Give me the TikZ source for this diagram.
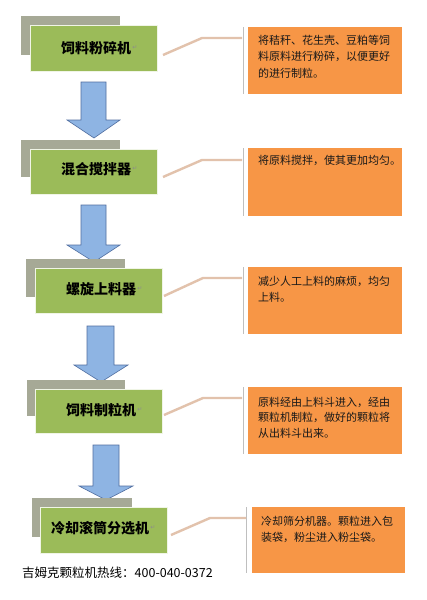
\documentclass[tikz,border=0pt]{standalone}
\usepackage{fontspec}
\newfontfamily\cjk{Noto Sans CJK SC}
\newfontfamily\dejavu{DejaVu Sans}
\definecolor{stepgreen}{RGB}{155,187,89}
\definecolor{backgrey}{RGB}{166,169,150}
\definecolor{noteorange}{RGB}{247,150,70}
\definecolor{arrowblue}{RGB}{142,180,227}
\definecolor{arrowedge}{RGB}{80,110,160}
\definecolor{linktan}{RGB}{226,194,172}
\tikzset{
  backbox/.style={fill=backgrey, draw=none},
  stepbox/.style={fill=stepgreen, draw=white!85!stepgreen, line width=0.8pt},
  steptext/.style={font=\cjk\bfseries\fontsize{14}{16}\selectfont, inner sep=0pt},
  notebox/.style={fill=noteorange, draw=none},
  noteedge/.style={draw=black!25, line width=0.8pt},
  notetext/.style={font=\cjk\fontsize{11}{16.5}\selectfont, text=black!90, align=left, anchor=north west, inner sep=0pt},
  flowarrow/.style={fill=arrowblue, draw=arrowedge, line width=0.6pt, line join=miter},
  link/.style={draw=linktan, line width=2.4pt},
  pmark/.style={font=\dejavu\fontsize{6}{6}\selectfont, text=black!45, inner sep=0pt, anchor=west, xshift=1pt}
}
\begin{document}
\begin{tikzpicture}[x=1pt,y=-1pt]
\useasboundingbox (0,0) rectangle (427,600);
\fill[white] (0,0) rectangle (427,600);

% ---------- step 1 ----------
\fill[backbox] (21,16) rectangle (120,55);
\draw[stepbox] (30,25) rectangle (157,71);
\node[steptext] (s1) at (96,48) {饲料粉碎机};
\node[pmark] at (s1.east) {↵};
\draw[noteedge] (243,27) -- (243,94);
\fill[notebox] (248,27) rectangle (402,94);
\node[notetext] (n1) at (258,35) {将秸秆、花生壳、豆粕等饲\\料原料进行粉碎，以便更好\\的进行制粒。};
\coordinate (c1a) at (163,55);
\coordinate (c1b) at (202,38);
\coordinate (c1c) at (242,38);
\draw[link] (c1a) -- (c1b) -- (c1c);

% arrow 1
\draw[flowarrow] (81,82) -- (106,82) -- (106,120) -- (120,120) -- (94,138) -- (67,120) -- (81,120) -- cycle;

% ---------- step 2 ----------
\fill[backbox] (21,140) rectangle (120,177);
\draw[stepbox] (30,149) rectangle (157,194);
\node[steptext] (s2) at (96,169) {混合搅拌器};
\node[pmark] at (s2.east) {↵};
\draw[noteedge] (243,148) -- (243,216);
\fill[notebox] (248,148) rectangle (402,216);
\node[notetext] (n2) at (258,155) {将原料搅拌，使其更加均匀。};
\coordinate (c2a) at (163,177);
\coordinate (c2b) at (202,160);
\coordinate (c2c) at (242,160);
\draw[link] (c2a) -- (c2b) -- (c2c);

% arrow 2
\draw[flowarrow] (81,205) -- (106,205) -- (106,245) -- (120,245) -- (94,262) -- (67,245) -- (81,245) -- cycle;

% ---------- step 3 ----------
\fill[backbox] (26,259) rectangle (125,297);
\draw[stepbox] (35,268) rectangle (162,313);
\node[steptext] (s3) at (101,289) {螺旋上料器};
\node[pmark] at (s3.east) {↵};
\draw[noteedge] (243,267) -- (243,334);
\fill[notebox] (248,267) rectangle (402,334);
\node[notetext] (n3) at (258,276) {减少人工上料的麻烦，均匀\\上料。};
\coordinate (c3a) at (164,296);
\coordinate (c3b) at (203,278);
\coordinate (c3c) at (242,278);
\draw[link] (c3a) -- (c3b) -- (c3c);

% arrow 3
\draw[flowarrow] (87,326) -- (114,326) -- (114,365) -- (128,365) -- (101,382) -- (74,365) -- (87,365) -- cycle;

% ---------- step 4 ----------
\fill[backbox] (27,380) rectangle (125,416);
\draw[stepbox] (35,389) rectangle (162,433);
\node[steptext] (s4) at (101,410) {饲料制粒机};
\node[pmark] at (s4.east) {↵};
\draw[noteedge] (243,387) -- (243,454);
\fill[notebox] (248,387) rectangle (402,454);
\node[notetext, font=\cjk\fontsize{11}{15.5}\selectfont] (n4) at (258,397) {原料经由上料斗进入，经由\\颗粒机制粒，做好的颗粒将\\从出料斗出来。};
\coordinate (c4a) at (164,415);
\coordinate (c4b) at (203,398);
\coordinate (c4c) at (242,398);
\draw[link] (c4a) -- (c4b) -- (c4c);

% arrow 4
\draw[flowarrow] (93,445) -- (119,445) -- (119,486) -- (133,486) -- (106,500) -- (79,486) -- (93,486) -- cycle;

% ---------- step 5 ----------
\fill[backbox] (32,498) rectangle (132,537);
\draw[stepbox] (40,507) rectangle (167,553);
\node[steptext] (s5) at (100,528) {冷却滚筒分选机};
\node[pmark] at (s5.east) {↵};
\draw[noteedge] (246,507) -- (246,573);
\fill[notebox] (252,507) rectangle (405,573);
\node[notetext, font=\cjk\fontsize{11}{15.5}\selectfont] (n5) at (261,516) {冷却筛分机器。颗粒进入包\\装袋，粉尘进入粉尘袋。};
\coordinate (c5a) at (171,535);
\coordinate (c5b) at (210,518);
\coordinate (c5c) at (246,518);
\draw[link] (c5a) -- (c5b) -- (c5c);

% footer
\node[font=\cjk\fontsize{12.5}{14}\selectfont, anchor=west, inner sep=0pt] (hot) at (22,573) {吉姆克颗粒机热线：400-040-0372};
\end{tikzpicture}
\end{document}
